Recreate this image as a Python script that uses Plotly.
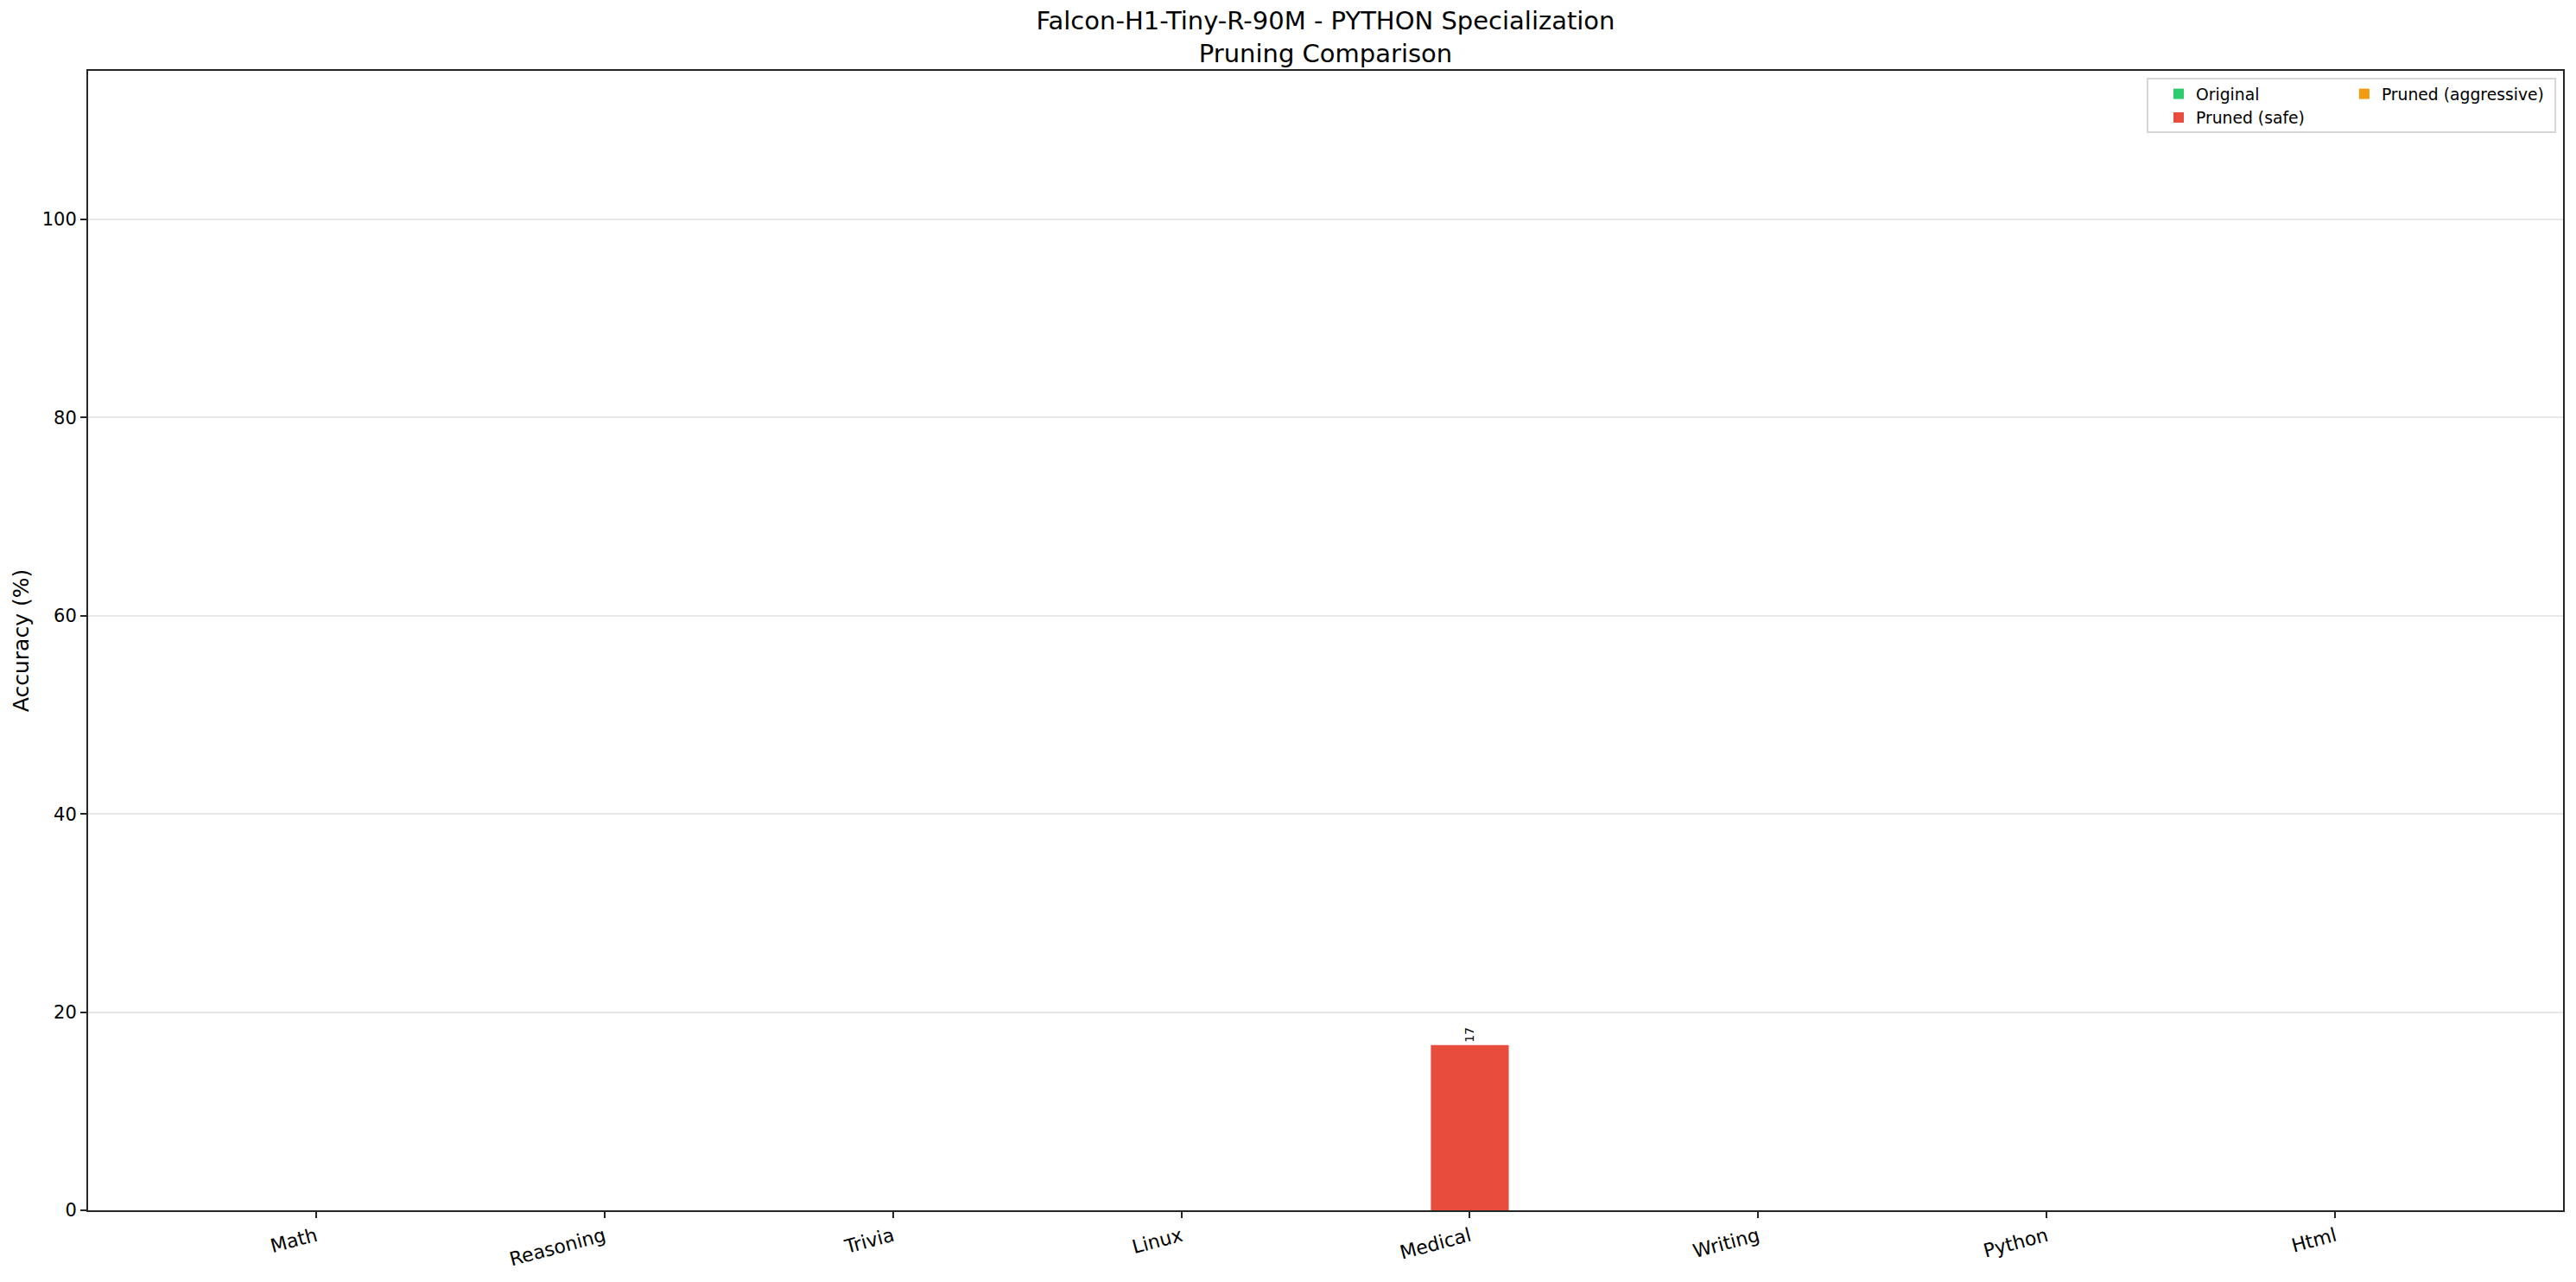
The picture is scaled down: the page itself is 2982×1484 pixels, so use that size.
import plotly.graph_objects as go

categories = ["Math", "Reasoning", "Trivia", "Linux", "Medical", "Writing", "Python", "Html"]
original = [0, 0, 0, 0, 0, 0, 0, 0]
pruned_safe = [0, 0, 0, 0, 16.67, 0, 0, 0]
pruned_aggressive = [0, 0, 0, 0, 0, 0, 0, 0]
y_ticks = [0, 20, 40, 60, 80, 100]

series = [
    ("Original", original, "#2ecc71", "legend"),
    ("Pruned (safe)", pruned_safe, "#e74c3c", "legend"),
    ("Pruned (aggressive)", pruned_aggressive, "#f39c12", "legend2"),
]

FONT = "DejaVu Sans"
fig = go.Figure()
x_idx = list(range(len(categories)))
for name, vals, color, lg in series:
    fig.add_trace(go.Bar(
        x=x_idx, y=vals, name=name, marker=dict(color=color, line=dict(width=0)),
        text=[f"{v:.0f}" if v > 0 else "" for v in vals],
        textposition="outside", textangle=-90, constraintext="none",
        textfont=dict(family=FONT, size=14, color="black"),
        cliponaxis=False, legend=lg,
    ))

axis_line = "#262626"
fig.update_layout(
    template="none",
    width=2982, height=1484,
    margin=dict(l=102, r=15, t=82, b=83, autoexpand=False),
    paper_bgcolor="white", plot_bgcolor="white",
    font=dict(family=FONT, color="black"),
    barmode="group", bargap=0.19, bargroupgap=0,
    title=dict(
        text="Falcon-H1-Tiny-R-90M - PYTHON Specialization<br>Pruning Comparison",
        x=0.5, xref="paper", xanchor="center",
        y=1, yref="paper", yanchor="bottom", pad=dict(b=48),
        font=dict(family=FONT, size=29, color="black"),
    ),
    xaxis=dict(
        automargin=False,
        range=[-0.79, 7.79], tickmode="array", tickvals=x_idx, ticktext=categories,
        tickangle=-15, tickfont=dict(size=22, color="black"),
        showline=True, linecolor=axis_line, linewidth=2, mirror=True,
        ticks="outside", ticklen=7, tickwidth=2, tickcolor=axis_line,
        showgrid=False, zeroline=False,
    ),
    yaxis=dict(
        automargin=False,
        range=[0, 115], tickmode="array", tickvals=y_ticks,
        tickfont=dict(size=21, color="black"),
        title=dict(text="Accuracy (%)", font=dict(size=25, color="black"), standoff=8),
        showline=True, linecolor=axis_line, linewidth=2, mirror=True,
        ticks="outside", ticklen=7, tickwidth=2, tickcolor=axis_line,
        showgrid=True, gridcolor="#e8e8e8", gridwidth=1.5, zeroline=False,
    ),
    legend=dict(
        x=0.8377, y=0.994, xanchor="left", yanchor="top", orientation="v",
        bgcolor="rgba(0,0,0,0)", font=dict(size=18.75, color="black"),
        tracegroupgap=0, itemclick=False,
    ),
    legend2=dict(
        x=0.9127, y=0.994, xanchor="left", yanchor="top", orientation="v",
        bgcolor="rgba(0,0,0,0)", font=dict(size=18.75, color="black"),
        tracegroupgap=0, itemclick=False,
    ),
    showlegend=True,
    shapes=[dict(
        type="rect", xref="paper", yref="paper",
        x0=0.8321, x1=0.9969, y0=0.9462, y1=0.9932,
        line=dict(color="#d6d6d6", width=2), fillcolor="rgba(255,255,255,0.8)",
        layer="below",
    )],
)

fig.write_html("out.html", config={"displayModeBar": False},
               post_script="document.body.style.margin='0';")
